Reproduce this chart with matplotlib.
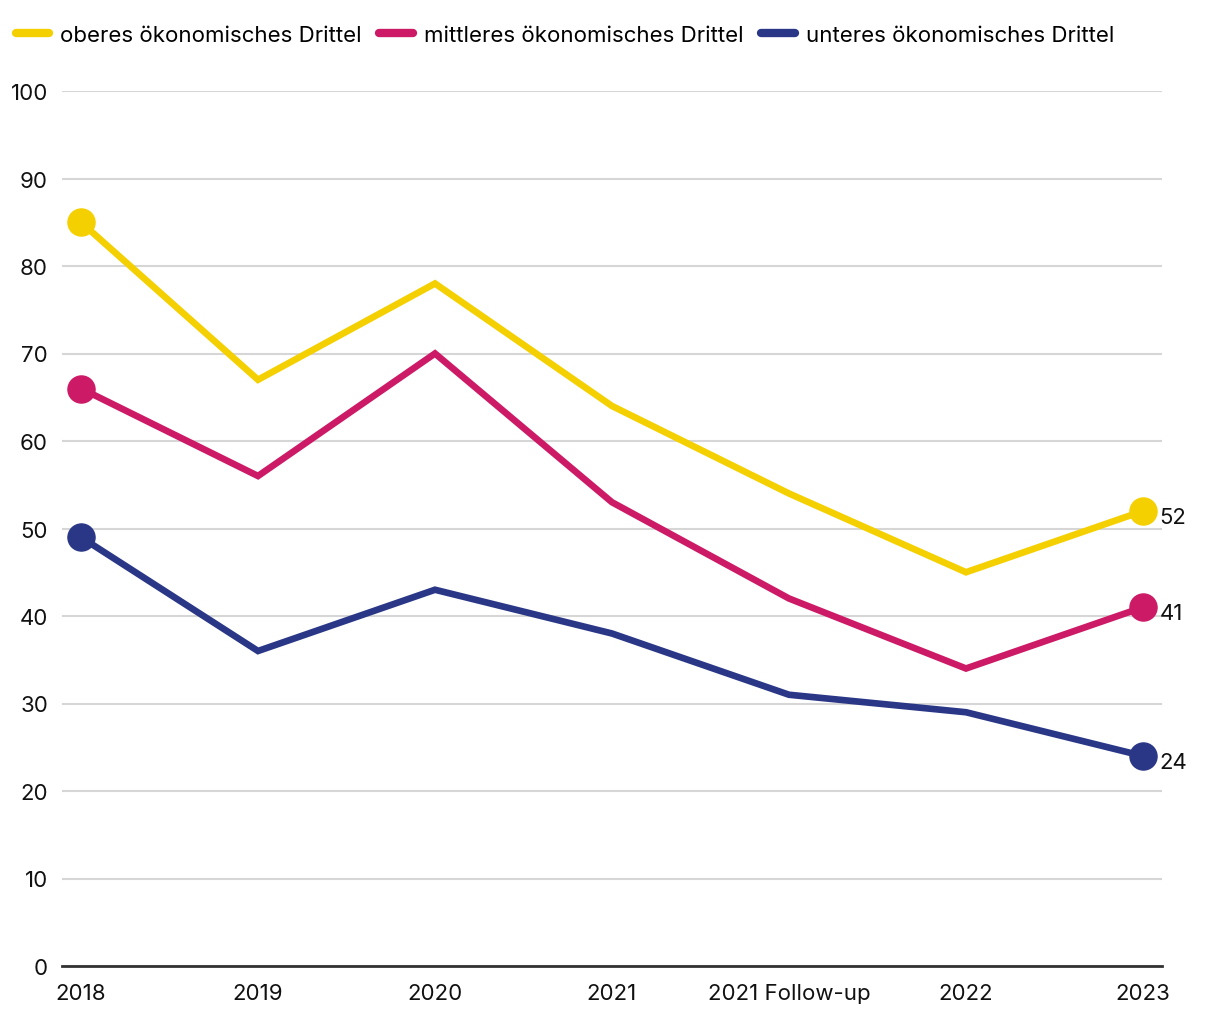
import matplotlib
matplotlib.use("Agg")
import matplotlib.pyplot as plt
from matplotlib.lines import Line2D

categories = ["2018", "2019", "2020", "2021", "2021 Follow-up", "2022", "2023"]
series_names = ["oberes ökonomisches Drittel", "mittleres ökonomisches Drittel", "unteres ökonomisches Drittel"]
oberes = [85, 67, 78, 64, 54, 45, 52]
mittleres = [66, 56, 70, 53, 42, 34, 41]
unteres = [49, 36, 43, 38, 31, 29, 24]
yticks = [0, 10, 20, 30, 40, 50, 60, 70, 80, 90, 100]

colors = ["#F5D000", "#CC1A66", "#2A3786"]

plt.rcParams['font.family'] = ['Inter', 'DejaVu Sans']

fig = plt.figure(figsize=(12.2, 10.2), dpi=100)
ax = fig.add_axes([62/1220, 1 - 967/1020, 1100/1220, (967 - 92)/1020])

x = list(range(len(categories)))
for vals, c in zip([oberes, mittleres, unteres], colors):
    ax.plot(x, vals, color=c, lw=4.8, solid_capstyle='round', solid_joinstyle='miter', zorder=3)
    ax.plot([x[0], x[-1]], [vals[0], vals[-1]], 'o', color=c, ms=19.5, zorder=4)
    ax.annotate(str(vals[-1]), (x[-1], vals[-1]), xytext=(12, -4), textcoords='offset points',
                ha='left', va='center', fontsize=16, color='#111111', zorder=5)

ax.set_xlim(-19/177, 6 + 19/177)
ax.set_ylim(0, 100)
ax.set_yticks(yticks)
ax.set_yticklabels([str(v) for v in yticks])
ax.set_xticks(x)
ax.set_xticklabels(categories)
ax.tick_params(axis='both', length=0, labelsize=16, labelcolor='#111111')
ax.tick_params(axis='y', pad=10)
ax.tick_params(axis='x', pad=12)
ax.grid(axis='y', color='#d6d6d6', lw=1.5, zorder=0)
ax.set_axisbelow(True)
for s in ['top', 'right', 'left']:
    ax.spines[s].set_visible(False)
ax.spines['bottom'].set_color('#333333')
ax.spines['bottom'].set_linewidth(2)
ax.spines['bottom'].set_zorder(2)

handles = [Line2D([0], [0], color=c, lw=6, solid_capstyle='round') for c in colors]
fig.legend(handles, series_names, loc='upper left', bbox_to_anchor=(0.0, 0.99), ncol=3,
           frameon=False, fontsize=16, handlelength=1.5, handletextpad=0.5, columnspacing=0.8,
           borderaxespad=0.3)

fig.savefig("out.png", dpi=100)
